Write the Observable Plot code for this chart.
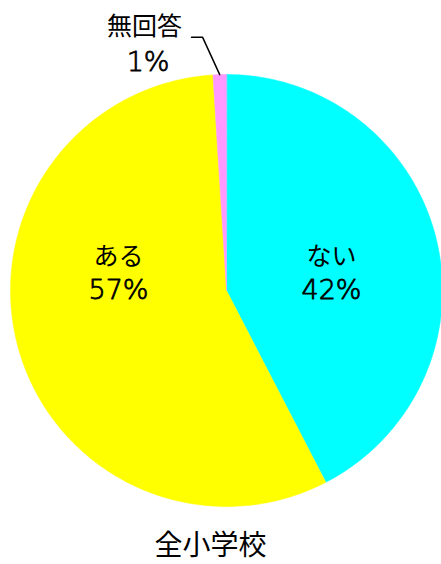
<!DOCTYPE html>
<html><head><meta charset="utf-8">
<script src="https://cdn.jsdelivr.net/npm/d3@7"></script>
<script src="https://cdn.jsdelivr.net/npm/@observablehq/plot@0.6"></script>
<style>body{margin:0;background:#fff;} svg{display:block;}</style>
</head><body><div id="chart"></div>
<script>
// ---- data ----
const categories = ["ない", "ある", "無回答"];
const values = [42.4, 56.6, 1.0];
const percentLabels = ["42%", "57%", "1%"];
const colors = ["#00ffff", "#ffff00", "#ff99ff"];
const title = "全小学校";

// ---- layout ----
const W = 441, H = 564, cx = 226, cy = 290, R = 216;
const namePos = [[0.486, 0.153], [-0.5, 0.155], [-0.38, 1.22]]; // in radius units
const pctPos = [[0.486, 0.0], [-0.5, 0.0], [-0.363, 1.055]];
const nameSize = [25, 25, 25];
const pctSize = [27, 27, 27];
const leaderElbow = [[-0.162, 1.173], [-0.111, 1.173]];
const titlePos = [-0.074, -1.181];

const arcs = d3.pie().sort(null).value(d => d)(values);
const poly = [];
arcs.forEach((a, i) => {
  poly.push({cat: categories[i], x: 0, y: 0});
  const n = Math.max(4, Math.ceil((a.endAngle - a.startAngle) / (2 * Math.PI) * 360));
  for (let k = 0; k <= n; k++) {
    const t = a.startAngle + (a.endAngle - a.startAngle) * k / n;
    poly.push({cat: categories[i], x: Math.sin(t), y: Math.cos(t)});
  }
});
const names = categories.map((c, i) => ({text: c, x: namePos[i][0], y: namePos[i][1], size: nameSize[i]}));
const pcts = percentLabels.map((p, i) => ({text: p, x: pctPos[i][0], y: pctPos[i][1], size: pctSize[i]}));
const small = arcs[2];
const mid = (small.startAngle + small.endAngle) / 2;
const leader = [
  {x: leaderElbow[0][0], y: leaderElbow[0][1]},
  {x: leaderElbow[1][0], y: leaderElbow[1][1]},
  {x: Math.sin(mid), y: Math.cos(mid)}
];

const chart = Plot.plot({
  width: W, height: H,
  margin: 0,
  style: {fontFamily: "'Noto Sans CJK JP', sans-serif", background: "#fff"},
  x: {domain: [-cx / R, (W - cx) / R], range: [0, W], axis: null},
  y: {domain: [(cy - H) / R, cy / R], range: [H, 0], axis: null},
  color: {domain: categories, range: colors},
  marks: [
    Plot.line(poly, {x: "x", y: "y", z: "cat", fill: "cat", stroke: "cat", strokeWidth: 0.5, curve: "linear-closed"}),
    Plot.line(leader, {x: "x", y: "y", stroke: "#000", strokeWidth: 1.5}),
    ...names.map(d => Plot.text([d], {x: "x", y: "y", text: "text", fontSize: d.size, fill: "#000"})),
    ...pcts.map(d => Plot.text([d], {x: "x", y: "y", text: "text", fontSize: d.size, fontWeight: 200, fontFamily: "'DejaVu Sans', sans-serif", fill: "#000", stroke: "#000", strokeWidth: 0.8, paintOrder: "normal"})),
    Plot.text([title], {x: () => titlePos[0], y: () => titlePos[1], text: d => d, fontSize: 28, fill: "#000"})
  ]
});
document.getElementById("chart").appendChild(chart);
</script>
</body></html>
